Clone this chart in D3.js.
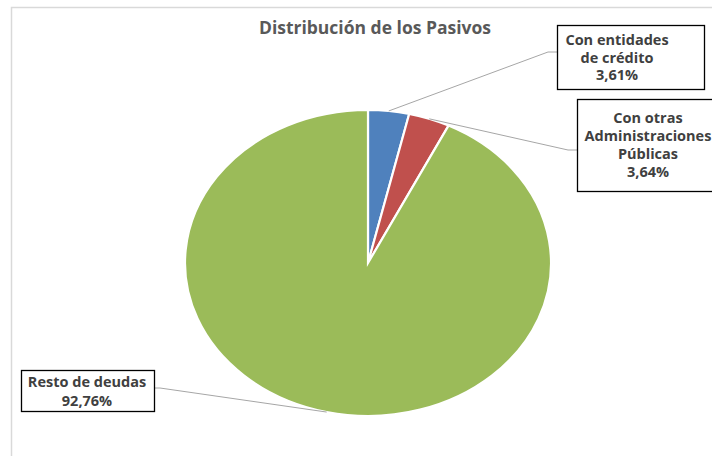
<!DOCTYPE html>
<html><head><meta charset="utf-8">
<script src="https://cdn.jsdelivr.net/npm/d3@7"></script>
<style>body{margin:0;background:#fff}svg{display:block}</style>
</head><body>
<svg id="c" width="712" height="456"></svg>
<script>
const categories = ["Con entidades de crédito", "Con otras Administraciones Públicas", "Resto de deudas"];
const values = [3.61, 3.64, 92.76];
const valueLabels = ["3,61%", "3,64%", "92,76%"];
const labelLines = [["Con entidades", "de crédito", "3,61%"], ["Con otras", "Administraciones", "Públicas", "3,64%"], ["Resto de deudas", "92,76%"]];
const colors = ["#4F81BD", "#C0504D", "#9BBB59"];
const title = "Distribución de los Pasivos";

const svg = d3.select("#c");
svg.append("rect").attr("x", 11.5).attr("y", 7.5).attr("width", 720).attr("height", 470)
  .attr("fill", "#fff").attr("stroke", "#d9d9d9").attr("stroke-width", 1.5);

svg.append("text").attr("x", 375).attr("y", 34).attr("text-anchor", "middle")
  .attr("font-family", "Open Sans, sans-serif").attr("font-weight", "bold").attr("font-size", 17.5)
  .attr("fill", "#595959").text(title);

const cx = 368, cy = 263, rx = 183, ry = 153;
const pie = d3.pie().sort(null).value(d => d);
const arcs = pie(values);
const arc = d3.arc().innerRadius(0).outerRadius(1);
const g = svg.append("g").attr("transform", `translate(${cx},${cy}) scale(${rx},${ry})`);
g.selectAll("path").data(arcs).join("path")
  .attr("d", arc).attr("fill", (d, i) => colors[i])
  .attr("stroke", "#fff").attr("stroke-width", 2.2).attr("vector-effect", "non-scaling-stroke");

const boxes = [
  {x: 557, y: 25, w: 147, h: 64, tx: 617, ty: 45, lh: 17.5, lead: [[548, 52], [557, 52]]},
  {x: 577, y: 99, w: 150, h: 92, tx: 648, ty: 123, lh: 18, lead: [[568, 150], [577, 150]]},
  {x: 21, y: 370, w: 133, h: 41, tx: 87, ty: 387, lh: 19, lead: [[160, 388], [154, 388]]}
];
function edgePoint(d, f) {
  const a = d.startAngle + (d.endAngle - d.startAngle) * f;
  return [cx + rx * Math.sin(a), cy - ry * Math.cos(a)];
}
const anchors = [edgePoint(arcs[0], 0.5), edgePoint(arcs[1], 0.5), edgePoint(arcs[2], 0.5)];
boxes.forEach((b, i) => {
  const pts = [anchors[i], ...b.lead];
  svg.append("path").attr("d", d3.line()(pts)).attr("fill", "none")
    .attr("stroke", "#a6a6a6").attr("stroke-width", 1);
  svg.append("rect").attr("x", b.x + 0.5).attr("y", b.y + 0.5).attr("width", b.w).attr("height", b.h)
    .attr("fill", "#fff").attr("stroke", "#000").attr("stroke-width", 1.3);
  const t = svg.append("text").attr("text-anchor", "middle")
    .attr("font-family", "Open Sans, sans-serif").attr("font-weight", "bold").attr("font-size", 14.5)
    .attr("fill", "#404040");
  labelLines[i].forEach((l, j) => {
    t.append("tspan").attr("x", b.tx).attr("y", b.ty + j * b.lh).text(l);
  });
});
</script>
</body></html>
